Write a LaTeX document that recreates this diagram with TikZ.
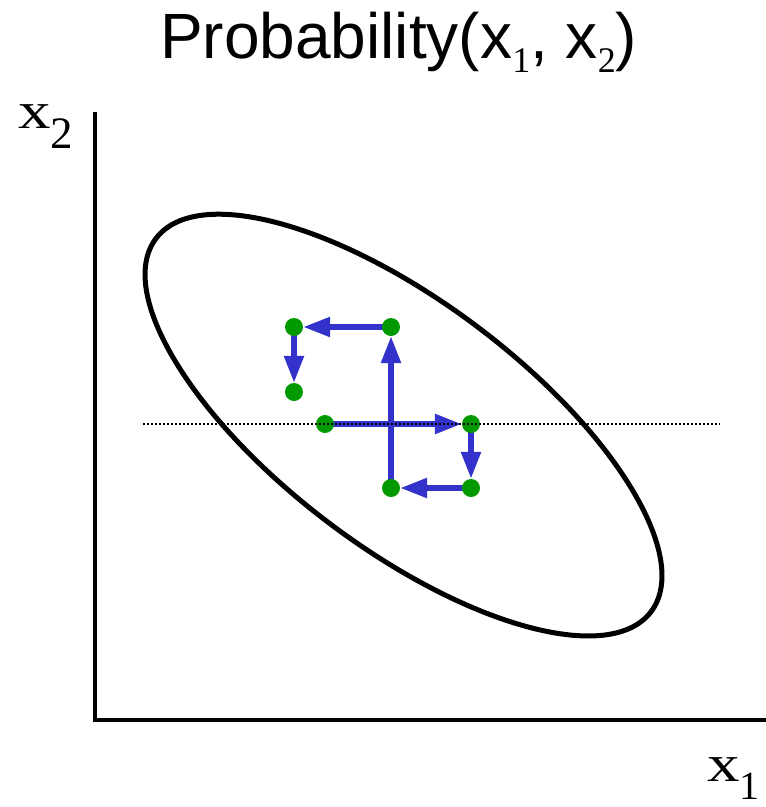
\documentclass[tikz,border=0pt]{standalone}
\usepackage{graphicx}
\usepackage{fontspec}
\setmainfont{Liberation Serif}
\newfontfamily\arialf{Liberation Sans}
\usetikzlibrary{arrows.meta,backgrounds}
\definecolor{dotgreen}{RGB}{0,153,0}
\definecolor{arrblue}{RGB}{51,51,204}
\tikzset{
  gdot/.style={circle, fill=dotgreen, inner sep=0pt, minimum size=18pt},
  arr/.style={draw=arrblue, line width=5.5pt, -{Triangle[length=27pt,width=19pt]}},
  axisline/.style={line width=4.5pt, miter limit=10},
  ell/.style={line width=5pt},
  dotline/.style={line width=1.4pt, dash pattern=on 1.6pt off 2.4pt},
  lbl/.style={anchor=base west, inner sep=0pt}
}
\begin{document}
\begin{tikzpicture}[x=1pt,y=-1pt]
\useasboundingbox (0,0) rectangle (766,807);
% title
\node[lbl] (title) at (160,58) {\arialf\fontsize{64}{64}\selectfont Probability(x\raisebox{-14pt}{\rmfamily\fontsize{36}{36}\selectfont 1}, x\raisebox{-14pt}{\rmfamily\fontsize{36}{36}\selectfont 2})};
% axes
\coordinate (atop) at (95,112);
\coordinate (aorig) at (95,720);
\coordinate (aright) at (766,720);
\draw[axisline] (atop) -- (aorig) -- (aright);
% axis labels
\node[lbl] (xtwo) at (18,128) {\fontsize{52}{52}\selectfont\scalebox{1.25}[1]{x}\raisebox{-20pt}{\fontsize{45}{45}\selectfont 2}};
\node[lbl] (xone) at (707,781) {\fontsize{52}{52}\selectfont\scalebox{1.25}[1]{x}\raisebox{-18pt}{\fontsize{40}{40}\selectfont 1}};
% ellipse
\coordinate (ec) at (403.5,425);
\draw[ell, rotate around={-37:(ec)}] (ec) ellipse [x radius=310, y radius=123];
% dots
\node[gdot] (d1) at (294,327) {};
\node[gdot] (d2) at (391,327) {};
\node[gdot] (d3) at (294,392) {};
\node[gdot] (d4) at (325,424) {};
\node[gdot] (d5) at (471,424) {};
\node[gdot] (d6) at (391,488) {};
\node[gdot] (d7) at (471,488) {};
% arrows
\begin{scope}[on background layer]
\draw[arr] (d4.center) -- (d5);
\draw[arr] (d5.center) -- (d7);
\draw[arr] (d7.center) -- (d6);
\draw[arr] (d6.center) -- (d2);
\draw[arr] (d2.center) -- (d1);
\draw[arr] (d1.center) -- (d3);
\end{scope}
% dotted line
\coordinate (dl) at (143,424);
\coordinate (dr) at (720,424);
\draw[dotline] (dl) -- (dr);
\end{tikzpicture}
\end{document}
